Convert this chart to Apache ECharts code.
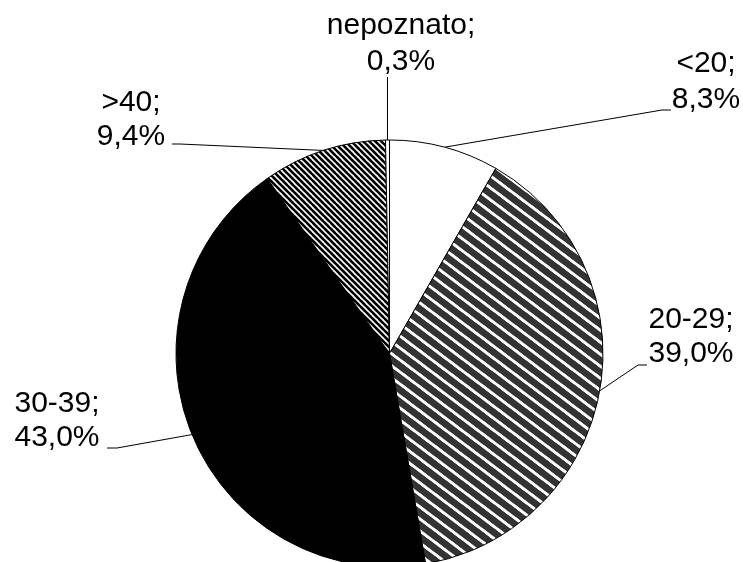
<!DOCTYPE html>
<html>
<head>
<meta charset="utf-8">
<script src="https://cdn.jsdelivr.net/npm/echarts@6/dist/echarts.min.js"></script>
<style>
  html, body { margin: 0; padding: 0; background: #fff; }
  #chart { width: 743px; height: 562px; }
</style>
</head>
<body>
<div id="chart"></div>
<script>
// podaci
const categories = ['<20', '20-29', '30-39', '>40', 'nepoznato'];
const shares = [8.3, 39.0, 43.0, 9.4, 0.3];

// gdje stoje oznake (sredina bloka teksta) i kraj linije
const labelSpots = [
    { x: 706, y: 82,  lh: 36, bend: [662, 110], end: [671, 110] },
    { x: 691, y: 337, lh: 34, bend: [638, 365], end: [647, 365] },
    { x: 57,  y: 421, lh: 34, bend: [117, 448], end: [107, 448] },
    { x: 131, y: 120, lh: 34, bend: [180, 144], end: [172, 144] },
    { x: 401, y: 44,  lh: 36, bend: [null, 86], end: [null, 77] }
];

function stripes(w, h, bg, fg, lw) {
    var c = document.createElement('canvas');
    c.width = w; c.height = h;
    var g = c.getContext('2d');
    g.fillStyle = bg;
    g.fillRect(0, 0, w, h);
    g.strokeStyle = fg;
    g.lineWidth = lw;
    for (var i = -1; i <= 1; i++) {
        for (var j = -1; j <= 1; j++) {
            g.beginPath();
            g.moveTo(i * w - w, j * h - h);
            g.lineTo(i * w + 2 * w, j * h + 2 * h);
            g.stroke();
        }
    }
    return c;
}

const fills = [
    '#fff',
    { image: stripes(16, 12, '#333', '#fff', 2.5), repeat: 'repeat' },
    '#000',
    { image: stripes(6, 6, '#fff', '#000', 2.2), repeat: 'repeat' },
    '#fff'
];

var myChart = echarts.init(document.getElementById('chart'));

var option = {
    backgroundColor: '#fff',
    animation: false,
    series: [
        {
            type: 'pie',
            center: [389.5, 353.5],
            radius: 213.5,
            startAngle: 90,
            clockwise: true,
            avoidLabelOverlap: false,
            emphasis: { disabled: true },
            itemStyle: { borderColor: '#000', borderWidth: 1 },
            label: {
                show: true,
                position: 'outside',
                color: '#000',
                fontFamily: 'Liberation Sans',
                fontSize: 30,
                lineHeight: 34,
                formatter: function (p) {
                    return p.name + ';\n' + p.value.toFixed(1).replace('.', ',') + '%';
                }
            },
            labelLine: {
                show: true,
                length: 10,
                length2: 10,
                lineStyle: { color: '#000', width: 1 }
            },
            labelLayout: function (p) {
                var s = labelSpots[p.dataIndex];
                var res = { x: s.x, y: s.y, align: 'center', verticalAlign: 'middle' };
                var pts = p.labelLinePoints;
                if (pts && pts[0]) {
                    var a = pts[0];
                    res.labelLinePoints = [
                        [a[0], a[1]],
                        [s.bend[0] == null ? a[0] : s.bend[0], s.bend[1]],
                        [s.end[0] == null ? a[0] : s.end[0], s.end[1]]
                    ];
                }
                return res;
            },
            data: categories.map(function (name, i) {
                return {
                    name: name,
                    value: shares[i],
                    itemStyle: { color: fills[i] },
                    label: { lineHeight: labelSpots[i].lh }
                };
            })
        }
    ]
};

myChart.setOption(option);
</script>
</body>
</html>
